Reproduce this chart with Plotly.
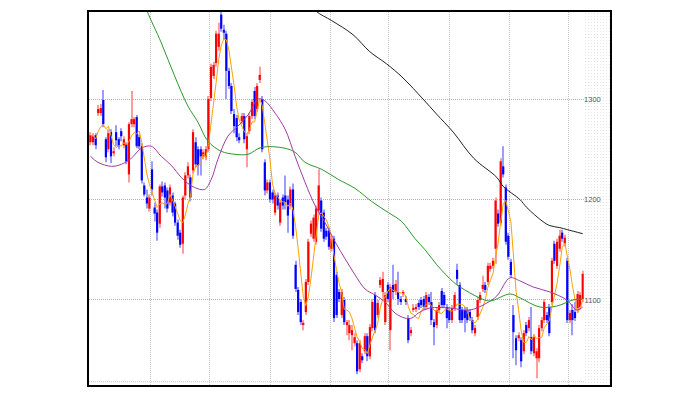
import plotly.graph_objects as go
import pandas as pd

# ---- daily OHLC ----
opens = [1257,1257,1264,1286,1286,1299,1260,1250,1267,1246,1267,1260,1268,1254,1255,1225,1275,1275,1282,1262,1253,1214,1202,1191,1230,1192,1187,1176,1213,1214,1209,1197,1204,1196,1177,1167,1156,1204,1224,1222,1229,1257,1250,1250,1243,1242,1250,1301,1323,1336,1352,1384,1369,1365,1328,1313,1285,1281,1262,1278,1283,1250,1268,1283,1308,1290,1319,1300,1237,1209,1217,1207,1187,1204,1177,1202,1204,1200,1194,1210,1135,1110,1098,1076,1088,1118,1166,1161,1158,1189,1199,1187,1169,1169,1151,1161,1125,1108,1085,1100,1075,1067,1065,1057,1057,1031,1044,1049,1064,1044,1072,1105,1085,1115,1108,1078,1115,1070,1115,1108,1108,1101,1106,1101,1082,1067,1091,1091,1097,1100,1101,1093,1103,1098,1078,1075,1090,1109,1105,1093,1090,1080,1092,1130,1115,1090,1090,1090,1088,1080,1067,1083,1100,1111,1115,1118,1131,1134,1151,1186,1177,1233,1212,1164,1138,1085,1062,1062,1060,1049,1075,1072,1063,1047,1042,1042,1072,1080,1085,1093,1098,1156,1134,1151,1167,1156,1139,1080,1090,1088,1092,1093,1101]
highs = [1267,1266,1266,1294,1295,1309,1262,1270,1270,1252,1274,1262,1271,1263,1257,1277,1308,1282,1284,1265,1256,1217,1210,1205,1238,1197,1190,1215,1218,1217,1212,1215,1207,1198,1180,1170,1204,1227,1237,1225,1270,1262,1253,1253,1250,1253,1303,1335,1337,1368,1376,1387,1374,1368,1331,1316,1290,1284,1266,1286,1286,1266,1286,1300,1312,1316,1332,1303,1240,1220,1220,1210,1207,1207,1200,1205,1224,1204,1213,1216,1139,1113,1101,1080,1121,1161,1179,1185,1194,1230,1202,1190,1172,1172,1164,1164,1128,1111,1111,1103,1080,1080,1075,1067,1060,1060,1047,1067,1067,1076,1101,1108,1100,1123,1128,1108,1118,1116,1135,1120,1128,1104,1110,1104,1085,1073,1096,1096,1100,1103,1104,1108,1106,1108,1081,1093,1098,1112,1108,1096,1093,1095,1108,1136,1118,1093,1093,1093,1091,1083,1075,1103,1108,1124,1118,1137,1137,1142,1202,1190,1241,1253,1215,1167,1141,1095,1065,1068,1063,1070,1078,1083,1093,1066,1052,1075,1083,1101,1088,1096,1142,1159,1161,1170,1170,1165,1142,1090,1096,1098,1109,1108,1129]
lows = [1254,1254,1250,1283,1283,1272,1237,1247,1236,1243,1253,1250,1258,1251,1235,1217,1272,1272,1251,1250,1216,1203,1191,1188,1204,1178,1159,1172,1203,1191,1187,1194,1183,1174,1160,1152,1146,1200,1221,1198,1226,1232,1224,1224,1240,1239,1247,1298,1320,1332,1348,1367,1359,1300,1310,1285,1266,1258,1256,1275,1256,1232,1265,1280,1280,1287,1316,1247,1204,1206,1197,1196,1184,1190,1174,1190,1190,1167,1190,1161,1108,1085,1075,1070,1085,1115,1163,1158,1155,1184,1168,1158,1160,1150,1148,1078,1082,1098,1082,1075,1065,1060,1050,1054,1026,1028,1037,1046,1039,1041,1069,1067,1082,1112,1102,1075,1098,1050,1101,1105,1095,1095,1103,1095,1057,1064,1088,1088,1090,1092,1090,1090,1095,1075,1055,1072,1087,1092,1092,1072,1077,1077,1089,1115,1077,1077,1068,1077,1079,1067,1064,1080,1097,1108,1107,1115,1128,1131,1136,1173,1174,1222,1155,1140,1122,1042,1035,1059,1033,1046,1064,1069,1046,1044,1022,1038,1069,1077,1077,1064,1095,1136,1131,1148,1158,1153,1077,1077,1065,1079,1089,1090,1098]
closes = [1264,1263,1254,1290,1291,1275,1242,1266,1243,1248,1259,1253,1263,1260,1238,1275,1280,1280,1253,1253,1219,1205,1196,1202,1210,1186,1167,1213,1207,1202,1191,1212,1187,1177,1164,1155,1202,1224,1233,1202,1267,1235,1234,1243,1247,1250,1300,1332,1334,1365,1365,1370,1366,1328,1313,1288,1273,1262,1259,1283,1260,1263,1283,1297,1283,1313,1324,1250,1209,1217,1200,1200,1204,1194,1197,1194,1197,1184,1210,1164,1111,1088,1078,1077,1118,1158,1176,1182,1191,1214,1171,1161,1163,1153,1161,1082,1085,1101,1108,1078,1078,1075,1070,1063,1029,1057,1040,1064,1044,1073,1098,1070,1097,1120,1121,1105,1101,1113,1108,1116,1101,1098,1108,1098,1060,1070,1092,1093,1093,1095,1093,1105,1098,1080,1073,1090,1095,1095,1095,1082,1080,1092,1105,1121,1080,1080,1082,1080,1082,1070,1072,1100,1105,1115,1110,1134,1134,1139,1199,1176,1238,1225,1158,1143,1125,1068,1050,1065,1039,1067,1067,1080,1049,1063,1049,1072,1080,1098,1080,1067,1139,1139,1158,1164,1161,1162,1080,1087,1080,1082,1106,1105,1126]

# ---- moving averages (bar index, price) ----
ma25_idx = [0, 2.9, 8.1, 12.0, 15.9, 19.8, 23.7, 27.6, 31.5, 35.4, 38.0, 40.6, 44.5, 47.1, 49.7, 53.6, 57.5, 61.4, 65.5, 68.1, 72.0, 75.9, 79.8, 83.7, 87.6, 91.5, 95.4, 99.3, 103.2, 107.1, 111.0, 114.9, 118.8, 122.7, 125.3, 127.9, 132.4, 140.2, 148.0, 154.6, 158.5, 163.6, 167.5, 172.6, 179.2, 185.8, 189.7, 192]
ma25_val = [1243, 1237, 1233, 1235, 1241, 1251, 1253, 1243, 1234, 1222, 1216, 1212, 1210, 1220, 1240, 1263, 1273, 1284, 1300, 1298, 1286, 1270, 1243, 1217, 1194, 1177, 1158, 1141, 1125, 1111, 1105, 1098, 1087, 1082, 1082, 1087, 1092, 1092, 1090, 1097, 1104, 1122, 1119, 1113, 1108, 1100, 1090, 1093]

ma75_idx = [21.3, 22.2, 27.6, 32.8, 38.0, 41.9, 45.8, 51.0, 56.3, 61.4, 66.8, 75.9, 79.8, 83.7, 90.2, 96.7, 103.2, 109.7, 116.2, 121.4, 126.6, 130.5, 135.1, 141.5, 144.1, 151.9, 155.8, 163.7, 167.6, 175.3, 181.9, 188.2, 192]
ma75_val = [1395, 1387, 1356, 1323, 1293, 1277, 1258, 1248, 1245, 1245, 1252, 1251, 1247, 1237, 1230, 1220, 1211, 1198, 1187, 1178, 1161, 1150, 1135, 1118, 1113, 1102, 1099, 1106, 1102, 1093, 1094, 1100, 1101]

ma200_idx = [85.6, 88.2, 94.1, 102.4, 109.0, 115.5, 121.9, 129.7, 135.0, 141.5, 149.5, 158.5, 161.0, 167.5, 170.2, 176.5, 179.2, 183.1, 186.0, 192]
ma200_val = [1395, 1387, 1378, 1364, 1347, 1335, 1321, 1300, 1285, 1267, 1241, 1222, 1213, 1200, 1192, 1178, 1174, 1172, 1170, 1166]

month_lines = [23.5, 46.6, 70.3, 93.7, 116.4, 140.2, 163.3, 186.3]
price_ticks = [1100, 1200, 1300]

n = len(closes)
assert len(opens) == n and len(highs) == n and len(lows) == n
idx = list(range(n))
up = [c >= o for o, c in zip(opens, closes)]
body_lo = [min(o, c) for o, c in zip(opens, closes)]
body_h = [max(abs(c - o), 1.3) for o, c in zip(opens, closes)]
wick_h = [h - l for h, l in zip(highs, lows)]
wick_col = ['#ff9c9c' if u else '#9c9cff' for u in up]
body_col = ['#ff0000' if u else '#0000ff' for u in up]
ma5 = pd.Series(closes).rolling(5, min_periods=1).mean()

x_lo, x_hi = -0.585, n - 1 + 10.65
y_lo, y_hi = 1015.4, 1386.6

fig = go.Figure()
# hatched future zone
hz0 = n - 1 + 0.45
fig.add_trace(go.Scatter(
    x=[hz0, x_hi, x_hi, hz0, hz0], y=[y_lo, y_lo, y_hi, y_hi, y_lo],
    mode='lines', fill='toself', line=dict(width=0), fillcolor='white',
    fillpattern=dict(shape='.', fgcolor='#9a9a9a', bgcolor='white', size=3, solidity=0.08),
    hoverinfo='skip'))
fig.add_trace(go.Bar(x=idx, y=wick_h, base=lows, width=0.4,
                     marker=dict(color=wick_col, line=dict(width=0))))
fig.add_trace(go.Bar(x=idx, y=body_h, base=body_lo, width=0.85,
                     marker=dict(color=body_col, line=dict(width=0))))
fig.add_trace(go.Scatter(x=idx, y=ma5, mode='lines', line=dict(color='#ffa200', width=1)))
fig.add_trace(go.Scatter(x=ma25_idx, y=ma25_val, mode='lines', line_shape='spline',
                         line=dict(color='#a03ca0', width=1)))
fig.add_trace(go.Scatter(x=ma75_idx, y=ma75_val, mode='lines', line_shape='spline',
                         line=dict(color='#2e962e', width=1)))
fig.add_trace(go.Scatter(x=ma200_idx, y=ma200_val, mode='lines', line_shape='spline',
                         line=dict(color='#222222', width=1)))

fig.add_shape(type='line', xref='paper', x0=0, x1=1, y0=1018.6, y1=1018.6,
              line=dict(color='#c4c4c4', width=1, dash='1px,1px'), layer='below')

# the page body adds an 8px offset, so margins are shifted to keep the frame at 89..610 x 10..385
fig.update_layout(
    width=700, height=396,
    margin=dict(l=81, r=98, t=2, b=19),
    paper_bgcolor='white', plot_bgcolor='white',
    showlegend=False, barmode='overlay',
    xaxis=dict(range=[x_lo, x_hi], tickvals=month_lines, showticklabels=False, ticks='',
               showgrid=True, gridcolor='#c4c4c4', griddash='1px,1px', gridwidth=1,
               showline=True, mirror=True, linecolor='black', linewidth=1.5, zeroline=False),
    yaxis=dict(range=[y_lo, y_hi], tickvals=price_ticks, side='right',
               ticklabelposition='inside', ticks='', ticklabelstandoff=8,
               tickfont=dict(family='Liberation Sans', size=7.5, color='#555555'),
               showgrid=True, gridcolor='#b0b0b0', griddash='1px,1px', gridwidth=1,
               showline=True, mirror=True, linecolor='black', linewidth=1.5, zeroline=False),
)
fig.write_html('out.html')
